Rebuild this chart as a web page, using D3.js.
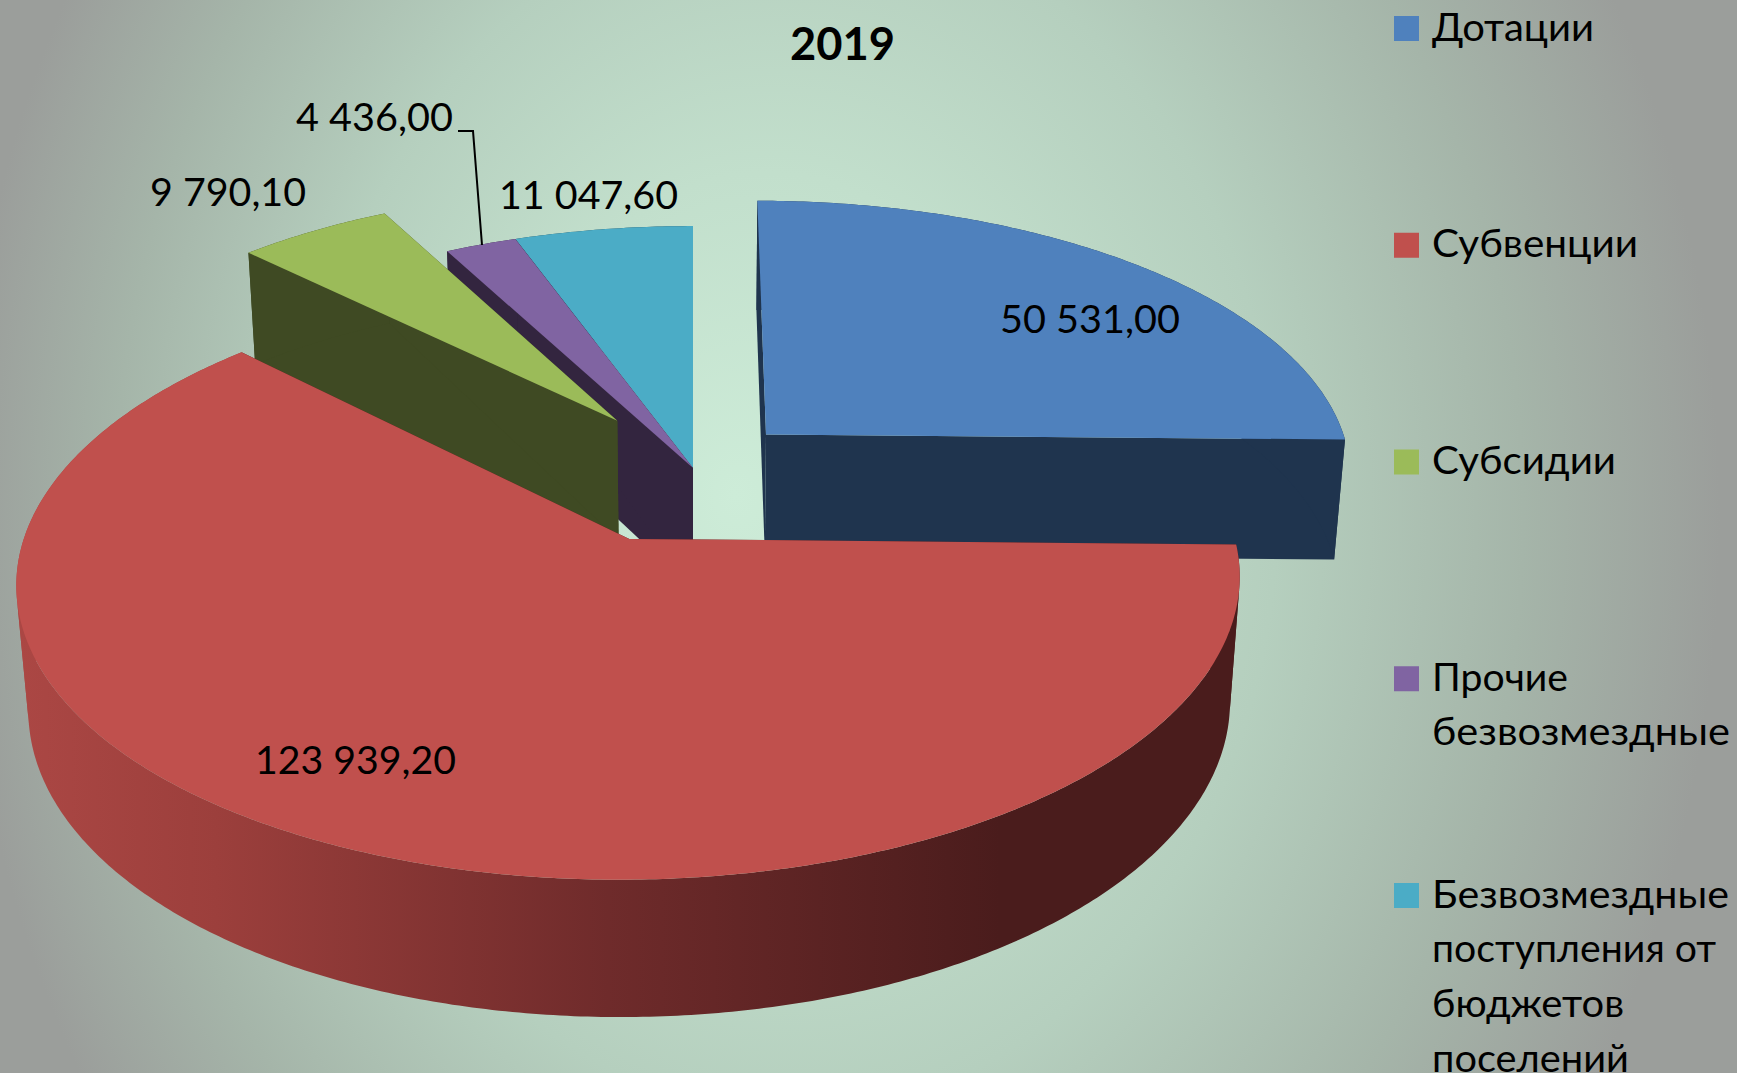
<!DOCTYPE html>
<html><head><meta charset="utf-8">
<script src="https://cdn.jsdelivr.net/npm/d3@7/dist/d3.min.js"></script>
<style>html,body{margin:0;padding:0;overflow:hidden;background:#aaa}svg{display:block}text{font-family:Lato,"Open Sans",sans-serif;fill:#000}</style>
</head><body><svg id="c" width="1737" height="1073"></svg>
<script>
const chartTitle = "2019";
const categories = ["Дотации","Субвенции","Субсидии","Прочие безвозмездные","Безвозмездные поступления от бюджетов поселений"];
const values = [50531.00,123939.20,9790.10,4436.00,11047.60];
const legendLines = [["Дотации"],["Субвенции"],["Субсидии"],["Прочие","безвозмездные"],["Безвозмездные","поступления от","бюджетов","поселений"]];
const legendWidths = [[162],[206],[184],[136,298],[297,284,192,197]];
const topColors = ["#4f81bd","#c0504d","#9bbb59","#8064a2","#4bacc6"];
const wallColors = ["#1f344e","url(#redWall)","#3f4a23","#33253f","#1e4a57"];
const explode = [0.1766,0.27,0.22,0,0];
const radii = [0.997,0.993,1,1,1];
const labelPos = [[1000,333],[255,774],[150,206],[296,131],[499,209]];
const labelWidths = [180,201,156,157,179];

const W=1737,H=1073;
const svg=d3.select("#c");
const defs=svg.append("defs");
const bg=defs.append("radialGradient").attr("id","bg").attr("gradientUnits","userSpaceOnUse")
  .attr("cx",840).attr("cy",520).attr("r",880).attr("fx",735).attr("fy",500)
  .attr("gradientTransform","translate(840,520) scale(1,1.25) translate(-840,-520)");
[[0,"#cdecd8"],[0.3,"#c2dfcc"],[0.55,"#b5cfbe"],[0.8,"#a5b5a9"],[1,"#9b9e9b"]].forEach(s=>bg.append("stop").attr("offset",s[0]).attr("stop-color",s[1]));
const rg=defs.append("linearGradient").attr("id","redWall").attr("gradientUnits","userSpaceOnUse").attr("x1",20).attr("x2",1000).attr("y1",0).attr("y2",0);
[[0,"#ab4744"],[0.2,"#9c3f3c"],[0.6,"#6f2b2b"],[1,"#4a1c1c"]].forEach(s=>rg.append("stop").attr("offset",s[0]).attr("stop-color",s[1]));
svg.append("rect").attr("width",W).attr("height",H).attr("fill","url(#bg)");

// perspective camera (units of pie radius)
const S=589,sinT=0.467,cosT=0.884,D=6.45,ox=693,oy=468,depth=0.237;
function project(X,Y,Z){
  const w=1+(Y*cosT-Z*sinT)/D;
  return [ox+S*X/w, oy-S*(Y*sinT+Z*cosT)/w];
}
const line=d3.line();
const slices=d3.pie().sort(null).value(d=>d)(values);
const fmt=d3.formatLocale({decimal:",",thousands:"\u00a0",grouping:[3],currency:["",""]}).format(",.2f");

function parts(s,i){
  const mid=(s.startAngle+s.endAngle)/2,e=explode[i],r=radii[i];
  const cx=e*Math.sin(mid),cy=e*Math.cos(mid);
  const n=Math.max(8,Math.ceil((s.endAngle-s.startAngle)/0.01));
  const ang=d3.range(n+1).map(k=>s.startAngle+(s.endAngle-s.startAngle)*k/n);
  const rim=z=>ang.map(a=>project(cx+r*Math.sin(a),cy+r*Math.cos(a),z));
  const apex=z=>project(cx,cy,z);
  return {rim,apex};
}
// the rim wall is cut where it turns away from the viewer, so that each piece is a simple polygon
function wallPieces(t,b){
  const pieces=[];let from=0;
  const sign=k=>Math.sign(d3.polygonArea([t[k],t[k+1],b[k+1],b[k]]));
  for(let k=1;k<t.length-1;k++) if(sign(k)!==sign(k-1)){pieces.push([from,k]);from=k;}
  pieces.push([from,t.length-1]);
  return pieces.map(([a,z])=>t.slice(a,z+1).concat(b.slice(a,z+1).reverse()));
}
// back-to-front painting order
[4,3,2,0,1].forEach(i=>{
  const p=parts(slices[i],i),t=p.rim(0),b=p.rim(-depth);
  const g=svg.append("g");
  const wall=wallColors[i];
  [[p.apex(0),t[0],b[0],p.apex(-depth)],[p.apex(0),t[t.length-1],b[b.length-1],p.apex(-depth)]]
    .forEach(q=>g.append("path").attr("d",line(q)+"Z").attr("fill",i==1?"#4a1c1c":wall));
  wallPieces(t,b).forEach(q=>g.append("path").attr("d",line(q)+"Z").attr("fill",wall));
  g.append("path").attr("d",line([p.apex(0)].concat(t))+"Z").attr("fill",topColors[i]);
});

svg.append("path").attr("d",line([[458,131],[473,131],[482,245]])).attr("fill","none").attr("stroke","#000").attr("stroke-width",2);
svg.append("text").attr("x",790).attr("y",60).attr("textLength",105).attr("lengthAdjust","spacingAndGlyphs").style("font-weight",700).style("font-size","46px").text(chartTitle);
values.forEach((v,i)=>svg.append("text").attr("x",labelPos[i][0]).attr("y",labelPos[i][1]).attr("textLength",labelWidths[i]).attr("lengthAdjust","spacingAndGlyphs").style("font-size","39px").text(fmt(v)));

const legend=svg.append("g");
legendLines.forEach((ls,i)=>{
  const y0=16+216.75*i;
  legend.append("rect").attr("x",1394).attr("y",y0).attr("width",25).attr("height",25).attr("fill",topColors[i]);
  ls.forEach((l,j)=>legend.append("text").attr("x",1432).attr("y",y0+24.5+j*54.7).attr("textLength",legendWidths[i][j]).attr("lengthAdjust","spacingAndGlyphs").style("font-size","39px").text(l));
});
</script></body></html>
